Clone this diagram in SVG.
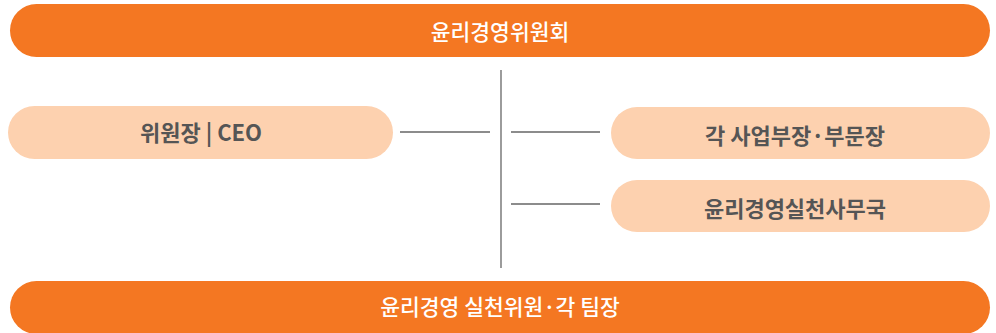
<svg xmlns="http://www.w3.org/2000/svg" width="996" height="333" viewBox="0 0 996 333">
<style>
.bar{fill:#F47722}
.pill{fill:#FDD1AF}
.bt{font-family:"Noto Sans CJK KR","Noto Sans",sans-serif;font-size:21.5px;fill:#ffffff;font-weight:500;text-anchor:middle;dominant-baseline:central}
.pt{font-family:"Noto Sans CJK KR","Noto Sans",sans-serif;font-size:22px;fill:#555555;font-weight:700;text-anchor:middle;dominant-baseline:central}
.ln{stroke:#666666;stroke-width:1.3;fill:none}
</style>
<rect width="996" height="333" fill="#ffffff"/>
<g id="committee">
<rect class="bar" x="10" y="4" width="980" height="53" rx="26.5"/>
<text class="bt" x="500" y="30">윤리경영위원회</text>
</g>
<g id="ceo">
<rect class="pill" x="8" y="106" width="385" height="53" rx="26.5"/>
<text class="pt" x="201" y="131">위원장 | CEO</text>
</g>
<g id="heads">
<rect class="pill" x="611" y="107" width="379" height="52" rx="26"/>
<text class="pt" x="795" y="134">각 사업부장·부문장</text>
</g>
<g id="office">
<rect class="pill" x="611" y="180" width="379" height="52" rx="26"/>
<text class="pt" x="795" y="207">윤리경영실천사무국</text>
</g>
<g id="members">
<rect class="bar" x="10" y="281" width="980" height="53" rx="26.5"/>
<text class="bt" x="500" y="305">윤리경영 실천위원·각 팀장</text>
</g>
<g id="connectors">
<line class="ln" x1="501" y1="70" x2="501" y2="268"/>
<line class="ln" x1="400" y1="132" x2="490" y2="132"/>
<line class="ln" x1="511" y1="132" x2="600" y2="132"/>
<line class="ln" x1="511" y1="204" x2="600" y2="204"/>
</g>
</svg>
